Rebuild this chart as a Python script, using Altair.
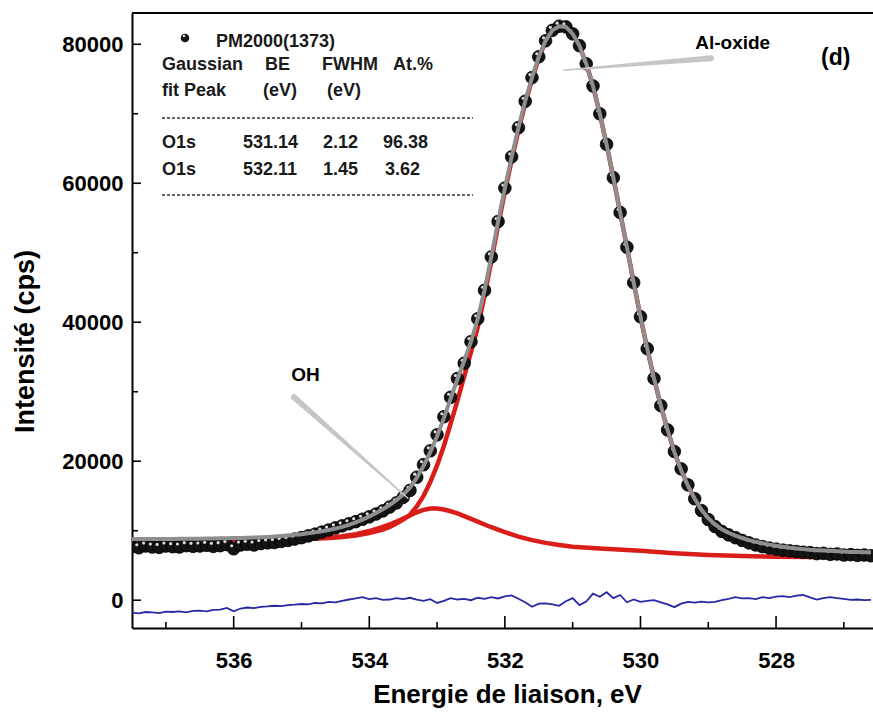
import altair as alt
import pandas as pd

# ---------------- data ----------------
# O1s scan, binding energy grid (eV)
energy = [
    537.5, 537.4, 537.3, 537.2, 537.1, 537.0, 536.9, 536.8, 536.7, 536.6,
    536.5, 536.4, 536.3, 536.2, 536.1, 536.0, 535.9, 535.8, 535.7, 535.6,
    535.5, 535.4, 535.3, 535.2, 535.1, 535.0, 534.9, 534.8, 534.7, 534.6,
    534.5, 534.4, 534.3, 534.2, 534.1, 534.0, 533.9, 533.8, 533.7, 533.6,
    533.5, 533.4, 533.3, 533.2, 533.1, 533.0, 532.9, 532.8, 532.7, 532.6,
    532.5, 532.4, 532.3, 532.2, 532.1, 532.0, 531.9, 531.8, 531.7, 531.6,
    531.5, 531.4, 531.3, 531.2, 531.1, 531.0, 530.9, 530.8, 530.7, 530.6,
    530.5, 530.4, 530.3, 530.2, 530.1, 530.0, 529.9, 529.8, 529.7, 529.6,
    529.5, 529.4, 529.3, 529.2, 529.1, 529.0, 528.9, 528.8, 528.7, 528.6,
    528.5, 528.4, 528.3, 528.2, 528.1, 528.0, 527.9, 527.8, 527.7, 527.6,
    527.5, 527.4, 527.3, 527.2, 527.1, 527.0, 526.9, 526.8, 526.7, 526.6,
]

# measured intensity (cps), PM2000(1373)
measured = [
    7700, 7550, 7800, 7650, 7600, 7800, 7700, 7650, 7850, 7750,
    7800, 7900, 7750, 7850, 8000, 7400, 7950, 8050, 7950, 8150,
    8250, 8300, 8450, 8600, 8800, 9000, 9250, 9500, 9800, 10100,
    10400, 10700, 11000, 11300, 11650, 12000, 12400, 12850, 13400, 14000,
    14800, 15800, 17700, 19500, 21500, 23800, 26400, 29200, 31900, 34100,
    37200, 40500, 44600, 49400, 54500, 59300, 63800, 68000, 71800, 75200,
    78200, 80500, 82000, 82600, 82500, 81500, 79800, 77200, 74000, 70000,
    65600, 60800, 55800, 50800, 45700, 40800, 36200, 31900, 28000, 24500,
    21400, 18900, 16600, 14600, 12900, 11600, 10600, 9900, 9400, 9000,
    8600, 8250, 7950, 7700, 7500, 7350, 7200, 7100, 7000, 6900,
    6850, 6700, 6750, 6600, 6650, 6500, 6550, 6450, 6500, 6400,
]

# total fit envelope (cps)
fit_total = [
    8800, 8800, 8800, 8810, 8810, 8820, 8820, 8830, 8840, 8850,
    8860, 8870, 8880, 8900, 8920, 8940, 8960, 8990, 9020, 9060,
    9100, 9160, 9230, 9310, 9400, 9500, 9620, 9760, 9920, 10100,
    10300, 10550, 10850, 11200, 11600, 12050, 12550, 13100, 13700, 14400,
    15200, 16200, 17600, 19300, 21300, 23600, 26200, 29000, 31800, 34400,
    37200, 40500, 44600, 49400, 54500, 59300, 63800, 68000, 71800, 75200,
    78200, 80500, 82000, 82600, 82500, 81500, 79800, 77200, 74000, 70000,
    65600, 60800, 55800, 50800, 45700, 40800, 36200, 31900, 28000, 24500,
    21300, 18700, 16500, 14600, 13000, 11800, 10900, 10200, 9700, 9300,
    8950, 8650, 8400, 8200, 8000, 7850, 7700, 7550, 7450, 7350,
    7250, 7200, 7150, 7100, 7050, 7000, 6950, 6950, 6900, 6900,
]

# residual (measured - fit)
residual = [
    -1800, -1900, -1700, -1750, -1850, -1650, -1700, -1600, -1750, -1550,
    -1500, -1600, -1400, -1350, -1100, -1600, -1200, -1050, -1150, -950,
    -900, -800, -850, -700, -650, -550, -600, -400, -450, -250,
    -300, -100, 100, 250, 450, 150, 300, 50, 100, 300,
    150, 350, 100, -100, 150, -400, -100, 300, 100, 200,
    0, 350, 200, 450, 250, 550, 700, 200, -300, -950,
    -500, -450, -600, -800, -150, 300, -700, -200, 950, 500,
    1150, 300, 750, -300, 100, -250, -100, 0, -300, -600,
    -1000, -500, -250, -350, -200, -300, -250, 0, 200, 450,
    250, 300, 150, 450, 300, 500, 600, 450, 650, 750,
    400, 100, 300, 450, 300, 200, 50, 100, 0, 50,
]

# Al-oxide component (with background)
oxide_energy = [
    537.5, 536.5, 535.5, 535.0, 534.8, 534.6, 534.4, 534.2, 534.0, 533.8,
    533.7, 533.6, 533.5, 533.4, 533.3, 533.2, 533.1, 533.0, 532.9, 532.8,
    532.7, 532.6, 532.5, 532.4, 532.3, 532.2, 532.1, 532.0, 531.9, 531.8,
    531.7, 531.6, 531.5, 531.4, 531.3, 531.2, 531.1, 531.0, 530.9, 530.8,
    530.7, 530.6, 530.5, 530.4, 530.3, 530.2, 530.1, 530.0, 529.9, 529.8,
    529.7, 529.6, 529.5, 529.4, 529.3, 529.2, 529.1, 529.0, 528.9, 528.8,
    528.7, 528.6, 528.5, 528.3, 528.0, 527.5, 527.0, 526.6,
]
oxide_fit = [
    8700, 8720, 8760, 8830, 8880, 8960, 9100, 9320, 9650, 10150,
    10550, 11050, 11600, 12300, 13500, 15000, 17000, 19400, 22200, 25400,
    28700, 32200, 35700, 39300, 43800, 48800, 53900, 58800, 63300, 67600,
    71500, 74900, 78000, 80400, 82000, 82600, 82500, 81500, 79800, 77200,
    74000, 70000, 65600, 60800, 55800, 50800, 45700, 40800, 36200, 31900,
    28000, 24500, 21300, 18700, 16500, 14600, 13000, 11800, 10900, 10200,
    9700, 9300, 8950, 8400, 7850, 7250, 7050, 6900,
]

# OH component (with background)
oh_energy = [
    537.5, 536.5, 535.5, 535.0, 534.8, 534.6, 534.4, 534.2, 534.0, 533.8,
    533.7, 533.6, 533.5, 533.4, 533.3, 533.2, 533.1, 533.0, 532.9, 532.8,
    532.7, 532.6, 532.5, 532.4, 532.3, 532.2, 532.1, 532.0, 531.8, 531.6,
    531.4, 531.2, 531.0, 530.6, 530.0, 529.5, 529.0, 528.5, 528.0, 527.5,
    527.0, 526.6,
]
oh_fit = [
    8700, 8720, 8760, 8830, 8900, 9000, 9200, 9500, 9950, 10550,
    10900, 11300, 11750, 12200, 12650, 13000, 13200, 13200, 13050, 12800,
    12500, 12100, 11700, 11300, 10900, 10500, 10150, 9800, 9150, 8650,
    8250, 7950, 7700, 7450, 7100, 6750, 6500, 6350, 6250, 6200,
    6150, 6150,
]

# axis ticks
x_major = [536, 534, 532, 530, 528]
x_minor = [537, 535, 533, 531, 529, 527]
y_major = [0, 20000, 40000, 60000, 80000]
y_minor = [10000, 30000, 50000, 70000]

# fit table
series_name = "PM2000(1373)"
header_1 = ["Gaussian", "BE", "FWHM", "At.%"]
header_2 = ["fit Peak", "(eV)", "(eV)"]
peak_1 = ["O1s", "531.14", "2.12", "96.38"]
peak_2 = ["O1s", "532.11", "1.45", "3.62"]

# ---------------- layout / style ----------------
W, H = 741, 615
FONT = "Liberation Sans, Arial, sans-serif"
RED = "#d91e1a"
GRAY_FIT = "#8e8e8e"
BLUE = "#2828a6"
ARROW = "#c6c6c6"

x_scale = alt.Scale(domain=[537.5, 526.57], nice=False, zero=False)
y_scale = alt.Scale(domain=[-4000, 84500], nice=False, zero=False)

x_axis = alt.Axis(
    values=x_major, format="d", ticks=False, tickSize=0, grid=False,
    domainColor="black", domainWidth=2,
    labelFont=FONT, labelFontSize=22, labelFontWeight="bold", labelColor="black",
    labelPadding=22,
    title="Energie de liaison, eV", titleFont=FONT, titleFontSize=26,
    titleFontWeight="bold", titleColor="black",
    titleX=375, titleY=74, titleAlign="center", titleBaseline="alphabetic",
)
y_axis = alt.Axis(
    values=y_major, format="d", ticks=False, tickSize=0, grid=False,
    domainColor="black", domainWidth=2,
    labelFont=FONT, labelFontSize=22, labelFontWeight="bold", labelColor="black",
    labelPadding=9,
    title="Intensité (cps)", titleFont=FONT, titleFontSize=27,
    titleFontWeight="bold", titleColor="black",
    titleX=-107, titleY=328, titleAlign="center", titleBaseline="middle",
    titleAngle=270,
)

X = alt.X("E:Q", scale=x_scale, axis=x_axis)
Y = alt.Y("I:Q", scale=y_scale, axis=y_axis)

scan = pd.DataFrame({"E": energy, "I": measured})
envelope = pd.DataFrame({"E": energy, "I": fit_total})
resid = pd.DataFrame({"E": energy, "I": residual})
oxide = pd.DataFrame({"E": oxide_energy, "I": oxide_fit})
oh = pd.DataFrame({"E": oh_energy, "I": oh_fit})

layers = []

# residual trace
layers.append(alt.Chart(resid).mark_line(color=BLUE, strokeWidth=1.8, clip=True)
              .encode(x=X, y=Y, order="E:Q"))

# fitted components
for comp in (oh, oxide):
    layers.append(alt.Chart(comp).mark_line(color=RED, strokeWidth=4.5, clip=True)
                  .encode(x=X, y=Y, order="E:Q"))

# measured points drawn as shaded balls
layers.append(alt.Chart(scan).mark_circle(color="#141414", size=160, opacity=1,
                                          stroke="black", strokeWidth=0.8, clip=True)
              .encode(x=X, y=Y))
layers.append(alt.Chart(scan).mark_circle(color="#dcdcdc", size=10, opacity=1,
                                          xOffset=-2, yOffset=-3, clip=True)
              .encode(x=X, y=Y))

# total fit envelope
layers.append(alt.Chart(envelope).mark_line(color=GRAY_FIT, strokeWidth=4, clip=True)
              .encode(x=X, y=Y, order="E:Q"))

# pointer lines for the annotations
pointers = pd.DataFrame({
    "g": ["ox", "ox", "oh", "oh"],
    "E": [528.96, 531.13, 535.11, 533.43],
    "I": [77990, 76260, 29210, 14680],
    "w": [6, 1.5, 6, 1.5],
    "o": [0, 1, 0, 1],
})
layers.append(alt.Chart(pointers).mark_trail(color=ARROW, clip=True)
              .encode(x=X, y=Y, size=alt.Size("w:Q", scale=None, legend=None),
                      detail="g:N", order="o:Q"))

notes = pd.DataFrame({
    "E": [528.64, 534.94],
    "I": [80200, 32450],
    "t": ["Al-oxide", "OH"],
})
layers.append(alt.Chart(notes).mark_text(font=FONT, fontSize=19, fontWeight="bold",
                                         color="black", align="center", baseline="middle")
              .encode(x=X, y=Y, text="t:N"))
panel = pd.DataFrame({"E": [527.12], "I": [78000], "t": ["(d)"]})
layers.append(alt.Chart(panel).mark_text(font=FONT, fontSize=23, fontWeight="bold",
                                         color="black", align="center", baseline="middle")
              .encode(x=X, y=Y, text="t:N"))

# inward tick marks
layers.append(alt.Chart(pd.DataFrame({"E": x_major})).mark_rule(color="black", strokeWidth=1.6)
              .encode(x=X, y=alt.value(H), y2=alt.value(H - 12)))
layers.append(alt.Chart(pd.DataFrame({"E": x_minor})).mark_rule(color="black", strokeWidth=1.6)
              .encode(x=X, y=alt.value(H), y2=alt.value(H - 6)))
layers.append(alt.Chart(pd.DataFrame({"I": y_major})).mark_rule(color="black", strokeWidth=1.6)
              .encode(y=Y, x=alt.value(0), x2=alt.value(9)))
layers.append(alt.Chart(pd.DataFrame({"I": y_minor})).mark_rule(color="black", strokeWidth=1.6)
              .encode(y=Y, x=alt.value(0), x2=alt.value(6)))

# top frame line
one = pd.DataFrame({"k": [0]})
layers.append(alt.Chart(one).mark_rule(color="black", strokeWidth=2)
              .encode(x=alt.value(0), x2=alt.value(W + 4), y=alt.value(0)))

# fit table (legend block in the upper left)
cell = dict(font=FONT, fontSize=18, fontWeight="bold", color="#1a1a1a",
            align="left", baseline="middle")


def table_text(text, px, py):
    return (alt.Chart(one).mark_text(text=text, **cell)
            .encode(x=alt.value(px), y=alt.value(py)))


layers.append(alt.Chart(one).mark_circle(color="#141414", size=75, opacity=1)
              .encode(x=alt.value(53), y=alt.value(25)))
layers.append(alt.Chart(one).mark_circle(color="#dcdcdc", size=6, opacity=1)
              .encode(x=alt.value(52), y=alt.value(23)))
layers.append(table_text(series_name, 84, 29))

for txt, px in zip(header_1, [30, 133, 190, 261]):
    layers.append(table_text(txt, px, 52))
for txt, px in zip(header_2, [30, 131, 195]):
    layers.append(table_text(txt, px, 78))
for txt, px in zip(peak_1, [30, 111, 191, 251]):
    layers.append(table_text(txt, px, 130))
for txt, px in zip(peak_2, [30, 111, 191, 253]):
    layers.append(table_text(txt, px, 157))

for py in (105, 182):
    layers.append(alt.Chart(one).mark_rule(color="#333333", strokeWidth=1.5, strokeDash=[3, 2])
                  .encode(x=alt.value(30), x2=alt.value(341), y=alt.value(py)))

chart = (
    alt.layer(*layers)
    .properties(
        width=W, height=H,
        padding={"left": 132, "top": 13, "right": 0, "bottom": 87},
        autosize=alt.AutoSizeParams(type="none"),
        background="white",
    )
    .configure_view(stroke=None)
)

chart.save("out.html", embed_options={"renderer": "svg", "actions": False})
